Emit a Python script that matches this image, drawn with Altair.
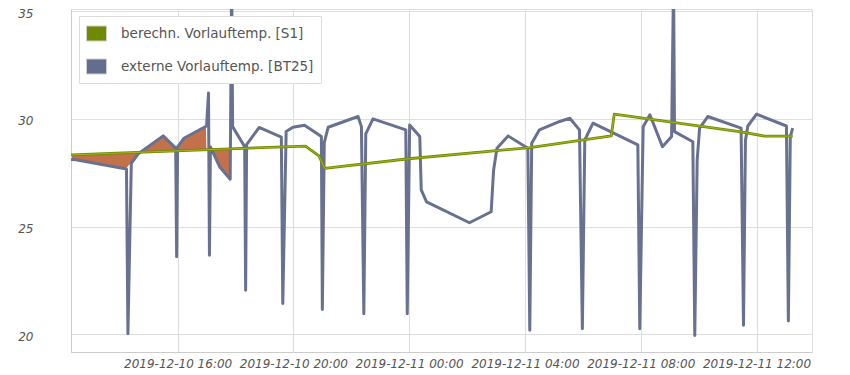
import altair as alt
import pandas as pd

S1 = "berechn. Vorlauftemp. [S1]"
BT25 = "externe Vorlauftemp. [BT25]"

green_times = ["2019-12-10 12:19", "2019-12-10 20:25", "2019-12-10 20:53", "2019-12-10 21:05",
               "2019-12-10 23:59", "2019-12-11 04:10", "2019-12-11 06:59", "2019-12-11 07:05",
               "2019-12-11 11:28", "2019-12-11 12:17", "2019-12-11 13:15"]
green_vals = [28.33, 28.74, 28.28, 27.70, 28.15, 28.67, 29.21, 30.22, 29.40, 29.20, 29.20]

blue_times = [
    "2019-12-10 12:19", "2019-12-10 12:29", "2019-12-10 14:14", "2019-12-10 14:17", "2019-12-10 14:24",
    "2019-12-10 14:38", "2019-12-10 15:30", "2019-12-10 15:56", "2019-12-10 15:58", "2019-12-10 16:00",
    "2019-12-10 16:13", "2019-12-10 17:00", "2019-12-10 17:04", "2019-12-10 17:06", "2019-12-10 17:08",
    "2019-12-10 17:27", "2019-12-10 17:49", "2019-12-10 17:52", "2019-12-10 17:54", "2019-12-10 18:19",
    "2019-12-10 18:21", "2019-12-10 18:23", "2019-12-10 18:49", "2019-12-10 19:35", "2019-12-10 19:38",
    "2019-12-10 19:45", "2019-12-10 19:59", "2019-12-10 20:23", "2019-12-10 20:58", "2019-12-10 21:00",
    "2019-12-10 21:04", "2019-12-10 21:12", "2019-12-10 22:14", "2019-12-10 22:21", "2019-12-10 22:26",
    "2019-12-10 22:30", "2019-12-10 22:45", "2019-12-10 23:53", "2019-12-10 23:56", "2019-12-11 00:01",
    "2019-12-11 00:22", "2019-12-11 00:25", "2019-12-11 00:36", "2019-12-11 02:05", "2019-12-11 02:50",
    "2019-12-11 02:55", "2019-12-11 03:02", "2019-12-11 03:25", "2019-12-11 04:06", "2019-12-11 04:10",
    "2019-12-11 04:14", "2019-12-11 04:30", "2019-12-11 05:12", "2019-12-11 05:33", "2019-12-11 05:53",
    "2019-12-11 05:59", "2019-12-11 06:04", "2019-12-11 06:21", "2019-12-11 07:54", "2019-12-11 07:58",
    "2019-12-11 08:05", "2019-12-11 08:19", "2019-12-11 08:45", "2019-12-11 09:04", "2019-12-11 09:08",
    "2019-12-11 09:10", "2019-12-11 09:48", "2019-12-11 09:52", "2019-12-11 09:57", "2019-12-11 10:02",
    "2019-12-11 10:19", "2019-12-11 11:28", "2019-12-11 11:33", "2019-12-11 11:37", "2019-12-11 11:42",
    "2019-12-11 12:00", "2019-12-11 13:02", "2019-12-11 13:06", "2019-12-11 13:10", "2019-12-11 13:15"]
blue_vals = [
    28.12, 28.10, 27.67, 20.03, 27.94,
    28.37, 29.21, 28.64, 23.60, 28.70,
    29.10, 29.67, 31.20, 23.67, 28.70,
    27.78, 27.20, 36.50, 29.64, 28.71,
    22.05, 28.80, 29.60, 29.15, 21.43,
    29.41, 29.61, 29.70, 29.18, 21.15,
    28.90, 29.61, 30.11, 29.64, 20.96,
    29.30, 30.00, 29.49, 20.96, 29.72,
    29.18, 26.70, 26.15, 25.18, 25.69,
    27.63, 28.64, 29.21, 28.64, 20.19,
    28.87, 29.49, 29.88, 30.03, 29.49,
    20.26, 29.02, 29.80, 28.79, 20.26,
    29.64, 30.19, 28.71, 29.18, 36.50,
    29.41, 28.94, 19.95, 28.10, 29.57,
    30.11, 29.57, 20.42, 29.00, 29.67,
    30.22, 29.67, 20.62, 29.18, 29.57]

band_times = ["2019-12-10 12:19", "2019-12-10 14:14", "2019-12-10 14:24", "2019-12-10 14:38",
              "2019-12-10 15:30", "2019-12-10 15:56", "2019-12-10 16:13", "2019-12-10 17:00",
              "2019-12-10 17:01", "2019-12-10 17:08", "2019-12-10 17:27", "2019-12-10 17:49"]
band_blue = [28.12, 27.67, 27.94, 28.37, 29.21, 28.64, 29.10, 29.67, 28.58, 28.70, 27.78, 27.20]
band_green = [28.33, 28.43, 28.44, 28.45, 28.49, 28.51, 28.53, 28.57, 28.57, 28.57, 28.59, 28.61]

series_names = [S1, BT25]
series_colors = ["#6f8a00", "#636d8d"]

lines = pd.concat([
    pd.DataFrame({"t": pd.to_datetime(green_times), "v": green_vals, "series": S1}),
    pd.DataFrame({"t": pd.to_datetime(blue_times), "v": blue_vals, "series": BT25}),
])
band = pd.DataFrame({"t": pd.to_datetime(band_times), "lo": band_blue, "hi": band_green})
legend_df = pd.DataFrame({"series": series_names,
                          "t": pd.to_datetime(["2019-12-10 12:19"] * 2),
                          "v": [19.18, 19.18]})

FONT = "DejaVu Sans"
x_ticks = [alt.DateTime(year=2019, month=12, date=10, hours=16),
           alt.DateTime(year=2019, month=12, date=10, hours=20),
           alt.DateTime(year=2019, month=12, date=11, hours=0),
           alt.DateTime(year=2019, month=12, date=11, hours=4),
           alt.DateTime(year=2019, month=12, date=11, hours=8),
           alt.DateTime(year=2019, month=12, date=11, hours=12)]
x_scale = alt.Scale(domain=[alt.DateTime(year=2019, month=12, date=10, hours=12, minutes=19),
                            alt.DateTime(year=2019, month=12, date=11, hours=13, minutes=55)])
y_scale = alt.Scale(domain=[19.18, 35.1], nice=False, zero=False)

x_axis = alt.Axis(values=x_ticks, format="%Y-%m-%d %H:%M", title=None, ticks=False,
                  labelFont=FONT, labelFontStyle="italic", labelFontSize=12, labelColor="#555",
                  labelPadding=6, domainColor="#ccc", gridColor="#dedede", labelFlush=False)
y_axis = alt.Axis(values=[20, 25, 30, 35], title=None, ticks=False,
                  labelFont=FONT, labelFontStyle="italic", labelFontSize=12, labelColor="#555",
                  labelPadding=38, labelOffset=2, labelBaseline="middle",
                  domainColor="#ccc", gridColor="#dedede")

X = alt.X("t:T", scale=x_scale, axis=x_axis)
Y = alt.Y("v:Q", scale=y_scale, axis=y_axis)

legend = alt.Legend(title=None, orient="none", legendX=8, legendY=7,
                    fillColor="white", strokeColor="#dcdcdc", padding=7,
                    symbolType="M-1,-0.75H1V0.75H-1Z", symbolSize=400,
                    symbolStrokeColor="#cfcfcf", symbolStrokeWidth=1,
                    labelFont=FONT, labelFontSize=13.5, labelColor="#555", labelLimit=400,
                    labelOffset=14, rowPadding=13)

legend_layer = alt.Chart(legend_df).mark_rect().encode(
    x=X, x2="t", y=Y, y2="v",
    color=alt.Color("series:N", scale=alt.Scale(domain=series_names, range=series_colors),
                    legend=legend),
)

band_layer = alt.Chart(band).mark_area(color="#c2714a", stroke="white", strokeWidth=1.3,
                                       clip=True).encode(
    x=alt.X("t:T", scale=x_scale, axis=x_axis),
    y=alt.Y("lo:Q", scale=y_scale, axis=y_axis),
    y2="hi",
)

blue_layer = alt.Chart(lines).transform_filter(alt.datum.series == BT25).mark_line(
    color="#697190", strokeWidth=3, strokeJoin="round", clip=True).encode(x=X, y=Y)

green_base = alt.Chart(lines).transform_filter(alt.datum.series == S1).mark_line(
    color="#748800", strokeWidth=2.8, strokeJoin="round", clip=True).encode(x=X, y=Y)
green_hi = alt.Chart(lines).transform_filter(alt.datum.series == S1).mark_line(
    color="#a9bb20", strokeWidth=0.9, strokeJoin="round", clip=True).encode(x=X, y=Y)

chart = alt.layer(legend_layer, band_layer, blue_layer, green_base, green_hi).properties(
    width=741, height=343,
    padding={"left": 63, "top": 1, "right": 30, "bottom": 18},
    autosize="none",
).configure_view(stroke="#ccc", strokeWidth=1).configure(background="white")

chart.save("out.html", embed_options={"renderer": "svg", "actions": False})
